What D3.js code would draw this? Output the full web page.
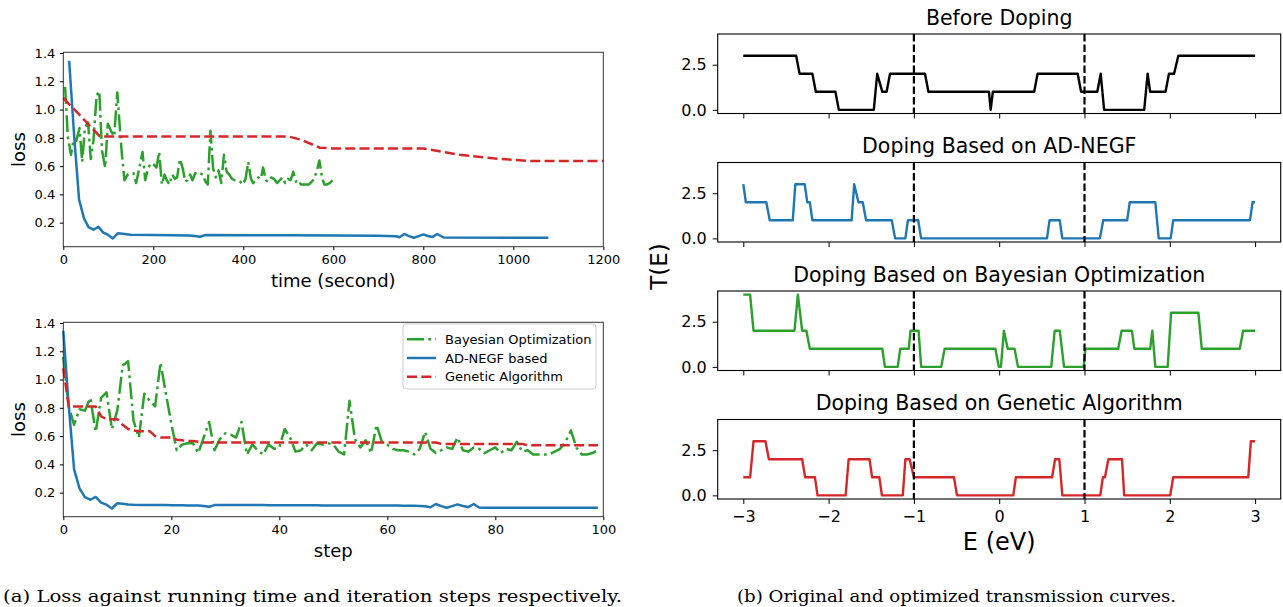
<!DOCTYPE html>
<html>
<head>
<meta charset="utf-8">
<script src="https://cdn.jsdelivr.net/npm/d3@7"></script>
<style>
  body { margin: 0; background: #fff; }
  svg text { font-family: "DejaVu Sans", sans-serif; fill: #000; }
  svg text.caption { font-family: "DejaVu Serif", serif; }
</style>
</head>
<body>
<div id="figure"></div>
<script>
console.log("linked");

// ---------------- data: loss per iteration step ----------------
const BAYES_LOSS = [
  1.16,0.81,0.68,0.79,0.78,0.87,0.63,0.87,0.91,0.65,
  0.78,1.10,1.13,0.71,0.59,0.90,0.85,0.81,1.12,0.90,
  0.69,0.50,0.54,0.55,0.55,0.48,0.59,0.70,0.50,0.58,
  0.62,0.61,0.59,0.70,0.47,0.54,0.50,0.47,0.54,0.51,
  0.52,0.65,0.59,0.49,0.50,0.54,0.50,0.55,0.54,0.55,
  0.54,0.49,0.47,0.85,0.58,0.52,0.57,0.48,0.68,0.56,
  0.54,0.51,0.50,0.50,0.49,0.47,0.51,0.63,0.51,0.48,
  0.50,0.52,0.51,0.59,0.50,0.49,0.52,0.51,0.48,0.50,
  0.52,0.48,0.51,0.50,0.56,0.49,0.50,0.47,0.47,0.47,
  0.47,0.49,0.51,0.56,0.64,0.52,0.47,0.47,0.48,0.50
];
const NEGF_LOSS = [
  1.345,0.82,0.365,0.23,0.168,0.15,0.17,0.13,0.115,0.088,
  0.125,0.122,0.117,0.114,0.113,0.112,0.112,0.112,0.112,0.112,
  0.111,0.111,0.111,0.110,0.110,0.109,0.106,0.100,0.112,0.112,
  0.112,0.112,0.112,0.112,0.112,0.112,0.112,0.112,0.111,0.111,
  0.111,0.111,0.111,0.111,0.111,0.111,0.111,0.111,0.110,0.110,
  0.110,0.110,0.110,0.110,0.110,0.110,0.110,0.110,0.110,0.110,
  0.109,0.109,0.109,0.108,0.108,0.107,0.106,0.104,0.097,0.120,
  0.105,0.093,0.105,0.117,0.106,0.098,0.120,0.095,0.094,0.094,
  0.094,0.094,0.094,0.094,0.094,0.094,0.093,0.093,0.093,0.093,
  0.093,0.093,0.093,0.093,0.093,0.093,0.093,0.093,0.093,0.093
];
const GA_LOSS = [
  1.08,0.81,0.81,0.81,0.81,0.81,0.81,0.74,0.72,0.72,
  0.72,0.68,0.65,0.64,0.635,0.635,0.635,0.60,0.59,0.59,
  0.59,0.575,0.57,0.565,0.565,0.56,0.555,0.555,0.555,0.555,
  0.555,0.555,0.555,0.555,0.555,0.555,0.555,0.555,0.555,0.555,
  0.555,0.555,0.555,0.555,0.555,0.555,0.555,0.555,0.555,0.555,
  0.555,0.555,0.555,0.555,0.555,0.555,0.555,0.555,0.555,0.555,
  0.555,0.555,0.555,0.555,0.555,0.555,0.555,0.555,0.555,0.555,
  0.545,0.545,0.545,0.545,0.545,0.545,0.545,0.545,0.545,0.545,
  0.545,0.545,0.545,0.545,0.545,0.545,0.535,0.535,0.535,0.535,
  0.535,0.535,0.535,0.535,0.535,0.535,0.535,0.535,0.535,0.535
];

// ---------------- data: loss against running time ----------------
// time stamp (s) of each Bayesian step
const BAYES_TIME = [
  4,10,17,23,29,36,42,48,55,61,67,74,80,86,93,99,106,113,120,125,
  130,136,143,149,156,162,169,176,182,188,194,201,207,213,219,225,230,236,242,248,
  253,259,265,271,276,282,287,293,299,304,310,316,321,327,333,339,345,351,357,363,
  369,375,381,387,393,399,405,411,417,422,428,433,439,444,450,456,462,468,475,481,
  487,493,499,505,511,517,523,528,534,540,546,552,557,563,569,575,580,586,592,598
];
const NEGF_TIME_LOSS = [
  [13,1.345],[24,0.82],[35,0.365],[46,0.23],[56,0.168],[67,0.15],[78,0.17],[89,0.13],
  [99,0.115],[110,0.088],[121,0.125],[132,0.122],[150,0.114],[200,0.112],[280,0.109],
  [292,0.106],[304,0.100],[315,0.112],[500,0.111],[700,0.108],[740,0.104],[747,0.097],
  [758,0.120],[768,0.105],[779,0.093],[790,0.105],[800,0.117],[810,0.106],[820,0.098],
  [831,0.120],[845,0.095],[1000,0.093],[1078,0.093]
];
const GA_TIME_LOSS = [
  [0,1.08],[40,0.95],[81,0.81],[500,0.81],[530,0.785],[570,0.73],[600,0.725],
  [800,0.725],[880,0.68],[955,0.655],[1030,0.637],[1200,0.637]
];

const TIME_TICKS = [0, 200, 400, 600, 800, 1000, 1200];
const STEP_TICKS = [0, 20, 40, 60, 80, 100];
const LOSS_TICKS = [0.2, 0.4, 0.6, 0.8, 1.0, 1.2, 1.4];

// ---------------- data: transmission T(E) breakpoints [E, T] ----------------
const T_BEFORE = [
  [-3.0,3],[-2.38,3],[-2.34,2],[-2.19,2],[-2.15,1],[-1.92,1],[-1.88,0],[-1.47,0],
  [-1.43,2],[-1.37,1],[-1.32,1],[-1.28,2],[-0.87,2],[-0.83,1],[-0.12,1],[-0.10,0],
  [-0.075,1],[0.41,1],[0.45,2],[0.92,2],[0.96,1],[1.15,1],[1.19,2],[1.23,0],
  [1.70,0],[1.74,2],[1.77,1],[1.95,1],[1.99,2],[2.05,2],[2.10,3],[3.0,3]
];
const T_NEGF = [
  [-3.0,3],[-2.97,2],[-2.73,2],[-2.69,1],[-2.42,1],[-2.39,3],[-2.28,3],[-2.25,2],
  [-2.22,2],[-2.19,1],[-1.73,1],[-1.70,3],[-1.65,2],[-1.60,2],[-1.56,1],[-1.26,1],
  [-1.22,0],[-1.10,0],[-1.07,1],[-0.95,1],[-0.915,0],[0.56,0],[0.59,1],[0.71,1],
  [0.74,0],[1.18,0],[1.22,1],[1.50,1],[1.53,2],[1.83,2],[1.87,0],[2.01,0],
  [2.04,1],[2.94,1],[2.97,2],[3.0,2]
];
const T_BAYES = [
  [-3.0,4],[-2.92,4],[-2.88,2],[-2.40,2],[-2.36,4],[-2.31,2],[-2.26,2],[-2.22,1],
  [-1.37,1],[-1.34,0],[-1.19,0],[-1.16,1],[-1.06,1],[-1.04,2],[-0.945,2],[-0.915,0],
  [-0.68,0],[-0.64,1],[-0.045,1],[-0.005,0],[0.02,0],[0.055,2],[0.10,1],[0.18,1],
  [0.22,0],[0.61,0],[0.65,2],[0.71,2],[0.76,0],[0.99,0],[1.01,1],[1.395,1],
  [1.435,2],[1.555,2],[1.585,1],[1.77,1],[1.795,2],[1.83,0],[1.975,0],[2.015,3],
  [2.335,3],[2.375,1],[2.82,1],[2.86,2],[3.0,2]
];
const T_GA = [
  [-3.0,1],[-2.92,1],[-2.88,3],[-2.74,3],[-2.70,2],[-2.31,2],[-2.275,1],[-2.16,1],
  [-2.13,0],[-1.80,0],[-1.765,2],[-1.52,2],[-1.49,1],[-1.405,1],[-1.375,0],[-1.13,0],
  [-1.10,2],[-1.05,2],[-1.0,1],[-0.53,1],[-0.495,0],[0.165,0],[0.195,1],[0.62,1],
  [0.655,2],[0.705,2],[0.74,0],[1.185,0],[1.215,1],[1.24,1],[1.28,2],[1.44,2],
  [1.465,0],[2.005,0],[2.04,1],[2.92,1],[2.95,3],[3.0,3]
];
const PANEL_TITLES = ["Before Doping", "Doping Based on AD-NEGF",
                      "Doping Based on Bayesian Optimization", "Doping Based on Genetic Algorithm"];
const ENERGY_TICKS = [-3, -2, -1, 0, 1, 2, 3];
const T_TICKS = [0, 2.5];
const FERMI_WINDOW = [-1, 1];

const LEGEND_NAMES = ["Bayesian Optimization", "AD-NEGF based", "Genetic Algorithm"];

// ---------------- layout ----------------
const FRAME_WIDTH = 1283;
const FRAME_HEIGHT = 607;

const GREEN = "#2ca02c", BLUE = "#1f77b4", RED = "#d62728";
const DASH_DOT = "17,4.3,2.7,4.3";
const DASHED = "10,4.3";

const LOSS_LEFT = 63.3, LOSS_RIGHT = 603.3;
const T_LEFT = 717.7, T_RIGHT = 1280.7;
const PANEL_TOPS = [34, 162.5, 291, 419.5];
const PANEL_H = 79.5;

const FRAME = d3.select("#figure")
                  .append("svg")
                    .attr("width", FRAME_WIDTH)
                    .attr("height", FRAME_HEIGHT)
                    .style("background", "#fff");

function style_axis(g, size) {
  g.select(".domain").remove();
  g.selectAll(".tick line").attr("stroke", "#000").attr("stroke-width", 1);
  g.selectAll(".tick text")
     .attr("font-family", "DejaVu Sans")
     .attr("font-size", size)
     .attr("fill", "#000");
}

function draw_line(g, points, X, Y, color, dash, width) {
  g.append("path")
     .datum(points)
     .attr("d", d3.line().x((d) => X(d[0])).y((d) => Y(d[1])))
     .attr("fill", "none")
     .attr("stroke", color)
     .attr("stroke-width", width)
     .attr("stroke-linejoin", "round")
     .attr("stroke-dasharray", dash);
}

function plot_loss(top, bottom, xMax, xTicks, xLabel, series, withLegend) {
  const X_SCALE = d3.scaleLinear().domain([0, xMax]).range([LOSS_LEFT, LOSS_RIGHT]);
  const Y_SCALE = d3.scaleLinear().domain([0.03, 1.405]).range([bottom, top]);
  const g = FRAME.append("g");

  series.forEach((s) => draw_line(g, s.points, X_SCALE, Y_SCALE, s.color, s.dash, 2.5));

  g.append("rect")
     .attr("x", LOSS_LEFT).attr("y", top)
     .attr("width", LOSS_RIGHT - LOSS_LEFT).attr("height", bottom - top)
     .attr("fill", "none").attr("stroke", "#333").attr("stroke-width", 1);

  g.append("g")
     .attr("transform", "translate(0," + bottom + ")")
     .call(d3.axisBottom(X_SCALE).tickValues(xTicks).tickSize(3.5).tickPadding(5).tickFormat(d3.format("d")))
     .call((a) => style_axis(a, 13));

  g.append("g")
     .attr("transform", "translate(" + LOSS_LEFT + ",0)")
     .call(d3.axisLeft(Y_SCALE).tickValues(LOSS_TICKS).tickSize(3.5).tickPadding(4.5).tickFormat(d3.format(".1f")))
     .call((a) => style_axis(a, 13));

  g.append("text")
     .attr("x", (LOSS_LEFT + LOSS_RIGHT) / 2).attr("y", bottom + 40.5)
     .attr("text-anchor", "middle").attr("font-size", 18)
     .text(xLabel);

  g.append("text")
     .attr("transform", "translate(25," + ((top + bottom) / 2) + ") rotate(-90)")
     .attr("text-anchor", "middle").attr("font-size", 18)
     .text("loss");

  if (withLegend) {
    const lg = g.append("g");
    lg.append("rect")
       .attr("x", 403).attr("y", 324).attr("width", 193).attr("height", 65)
       .attr("rx", 3).attr("fill", "#fff").attr("stroke", "#ccc").attr("stroke-width", 1);
    series.forEach((s, i) => {
      const y = 339.3 + i * 18.7;
      lg.append("line")
         .attr("x1", 407).attr("x2", 436).attr("y1", y).attr("y2", y)
         .attr("stroke", s.color).attr("stroke-width", 2.5)
         .attr("stroke-dasharray", s.dash);
      lg.append("text")
         .attr("x", 445).attr("y", y + 4.6)
         .attr("font-size", 13)
         .text(LEGEND_NAMES[i]);
    });
  }
}

// loss vs running time
plot_loss(52.3, 246.7, 1200, TIME_TICKS, "time (second)", [
  {points: BAYES_LOSS.map((v, i) => [BAYES_TIME[i], v]), color: GREEN, dash: DASH_DOT},
  {points: NEGF_TIME_LOSS, color: BLUE, dash: null},
  {points: GA_TIME_LOSS, color: RED, dash: DASHED}
], false);

// loss vs step
plot_loss(322.3, 516.7, 100, STEP_TICKS, "step", [
  {points: BAYES_LOSS.map((v, i) => [i, v]), color: GREEN, dash: DASH_DOT},
  {points: NEGF_LOSS.map((v, i) => [i, v]), color: BLUE, dash: null},
  {points: GA_LOSS.map((v, i) => [i, v]), color: RED, dash: DASHED}
], true);

// ---------------- transmission panels ----------------
const E_SCALE = d3.scaleLinear().domain([-3.3, 3.3]).range([T_LEFT, T_RIGHT]);
const CURVES = [
  {points: T_BEFORE, color: "#000"},
  {points: T_NEGF, color: BLUE},
  {points: T_BAYES, color: GREEN},
  {points: T_GA, color: RED}
];

CURVES.forEach((c, i) => {
  const top = PANEL_TOPS[i];
  const bottom = top + PANEL_H;
  const Y_SCALE = d3.scaleLinear().domain([-0.2, 4.2]).range([bottom, top]);
  const g = FRAME.append("g");

  draw_line(g, c.points, E_SCALE, Y_SCALE, c.color, null, 2.4);

  FERMI_WINDOW.forEach((e) => {
    g.append("line")
       .attr("x1", E_SCALE(e)).attr("x2", E_SCALE(e))
       .attr("y1", top).attr("y2", bottom)
       .attr("stroke", "#000").attr("stroke-width", 2.2)
       .attr("stroke-dasharray", "7.5,3");
  });

  g.append("rect")
     .attr("x", T_LEFT).attr("y", top)
     .attr("width", T_RIGHT - T_LEFT).attr("height", PANEL_H)
     .attr("fill", "none").attr("stroke", "#000").attr("stroke-width", 1.1);

  const xAxis = d3.axisBottom(E_SCALE).tickValues(ENERGY_TICKS).tickSize(5).tickPadding(7)
                  .tickFormat(i === CURVES.length - 1 ? d3.format("d") : "");
  g.append("g")
     .attr("transform", "translate(0," + bottom + ")")
     .call(xAxis)
     .call((a) => style_axis(a, 16));

  g.append("g")
     .attr("transform", "translate(" + T_LEFT + ",0)")
     .call(d3.axisLeft(Y_SCALE).tickValues(T_TICKS).tickSize(5).tickPadding(6).tickFormat(d3.format(".1f")))
     .call((a) => style_axis(a, 16));

  g.append("text")
     .attr("x", (T_LEFT + T_RIGHT) / 2).attr("y", top - 9.5)
     .attr("text-anchor", "middle").attr("font-size", 20.5)
     .text(PANEL_TITLES[i]);
});

FRAME.append("text")
   .attr("x", (T_LEFT + T_RIGHT) / 2).attr("y", 550)
   .attr("text-anchor", "middle").attr("font-size", 24)
   .text("E (eV)");

FRAME.append("text")
   .attr("transform", "translate(667," + ((PANEL_TOPS[0] + PANEL_TOPS[3] + PANEL_H) / 2) + ") rotate(-90)")
   .attr("text-anchor", "middle").attr("font-size", 23)
   .text("T(E)");

// ---------------- captions ----------------
FRAME.append("text").attr("class", "caption")
   .attr("x", 3).attr("y", 602).attr("font-size", 17)
   .attr("textLength", 619).attr("lengthAdjust", "spacingAndGlyphs")
   .text("(a) Loss against running time and iteration steps respectively.");

FRAME.append("text").attr("class", "caption")
   .attr("x", 737).attr("y", 602).attr("font-size", 17)
   .attr("textLength", 439).attr("lengthAdjust", "spacingAndGlyphs")
   .text("(b) Original and optimized transmission curves.");
</script>
</body>
</html>
